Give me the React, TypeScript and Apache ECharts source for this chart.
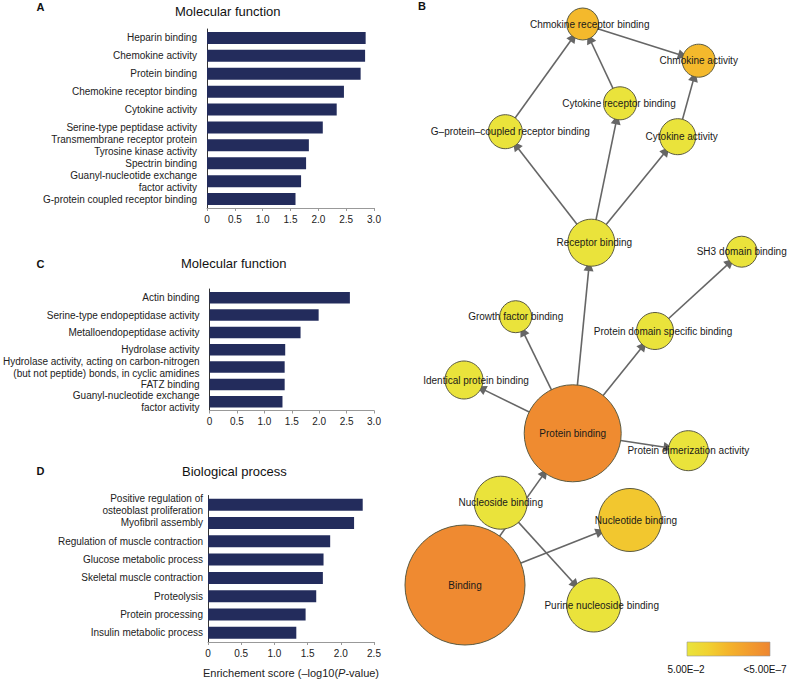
import React, { useEffect, useRef } from 'react';
import * as echarts from 'echarts';

// ---------- Bar panel data ----------
const catsA = [
  'Heparin binding',
  'Chemokine activity',
  'Protein binding',
  'Chemokine receptor binding',
  'Cytokine activity',
  'Serine-type peptidase activity',
  'Transmembrane receptor protein\nTyrosine kinase activity',
  'Spectrin binding',
  'Guanyl-nucleotide exchange\nfactor activity',
  'G-protein coupled receptor binding',
];
const valsA = [2.85, 2.84, 2.76, 2.46, 2.33, 2.08, 1.83, 1.78, 1.69, 1.59];

const catsC = [
  'Actin binding',
  'Serine-type endopeptidase activity',
  'Metalloendopeptidase activity',
  'Hydrolase activity',
  'Hydrolase activity, acting on carbon-nitrogen\n(but not peptide) bonds, in cyclic amidines',
  'FATZ binding',
  'Guanyl-nucleotide exchange\nfactor activity',
];
const valsC = [2.56, 1.99, 1.66, 1.38, 1.37, 1.37, 1.33];

const catsD = [
  'Positive regulation of\nosteoblast proliferation',
  'Myofibril assembly',
  'Regulation of muscle contraction',
  'Glucose metabolic process',
  'Skeletal muscle contraction',
  'Proteolysis',
  'Protein processing',
  'Insulin metabolic process',
];
const valsD = [2.33, 2.2, 1.84, 1.74, 1.73, 1.63, 1.47, 1.33];

const ticksABC = [0, 0.5, 1.0, 1.5, 2.0, 2.5, 3.0];
const ticksD = [0, 0.5, 1.0, 1.5, 2.0, 2.5];

// ---------- Network data ----------
const nodeNames = [
  'Chmokine receptor binding',
  'Chmokine activity',
  'Cytokine receptor binding',
  'G–protein–coupled receptor binding',
  'Cytokine activity',
  'Receptor binding',
  'SH3 domain binding',
  'Growth factor binding',
  'Protein domain specific binding',
  'Identical protein binding',
  'Protein binding',
  'Protein dimerization activity',
  'Nucleoside binding',
  'Nucleotide binding',
  'Binding',
  'Purine nucleoside binding',
];
// -log10(P) of each GO term (colour)
const nodeScore = [3.6, 3.6, 1.4, 1.4, 1.4, 1.4, 1.4, 1.4, 1.4, 1.4, 6.0, 1.4, 1.4, 3.0, 6.1, 1.4];
// node layout (graph drawing coordinates) and node diameters
const nodeX = [582.7, 698.7, 620, 505.3, 677.7, 591.3, 741.7, 515.7, 655, 464, 572.7, 688.3, 500.7, 630, 465, 593.7];
const nodeY = [24, 60.7, 103.3, 131.7, 136.7, 242.7, 251.7, 316.7, 331, 380, 433.3, 450.7, 502.7, 520, 585, 605];
const nodeSize = [32, 33, 33, 34, 36, 47, 31, 32, 37, 38, 97, 40, 53, 63, 120, 54];
const edges: [string, string][] = [
  ['G–protein–coupled receptor binding', 'Chmokine receptor binding'],
  ['Cytokine receptor binding', 'Chmokine receptor binding'],
  ['Chmokine receptor binding', 'Chmokine activity'],
  ['Cytokine activity', 'Chmokine activity'],
  ['Receptor binding', 'G–protein–coupled receptor binding'],
  ['Receptor binding', 'Cytokine receptor binding'],
  ['Receptor binding', 'Cytokine activity'],
  ['Protein binding', 'Receptor binding'],
  ['Protein binding', 'Growth factor binding'],
  ['Protein binding', 'Identical protein binding'],
  ['Protein binding', 'Protein domain specific binding'],
  ['Protein domain specific binding', 'SH3 domain binding'],
  ['Protein binding', 'Protein dimerization activity'],
  ['Binding', 'Protein binding'],
  ['Binding', 'Nucleotide binding'],
  ['Nucleoside binding', 'Purine nucleoside binding'],
];
const scoreMin = 1.3; // 5.00E-2
const scoreMax = 6.3; // 5.00E-7
const scaleLabels = ['5.00E–2', '<5.00E–7'];

const FONT = '"Liberation Sans", Arial, Helvetica, sans-serif';
const NAVY = '#232c5c';
const GRAD = ['#e9e43c', '#f1d231', '#f4b42b', '#f29c2e', '#ee8631'];
const labelShift = [7, 0, -1, 5, 4, 3, 0, 0, 8, 12, 0, 0, 0, 6, 0, 8];

function barPanel(gi: number, cats: string[], vals: number[], max: number, margin: number, barW: number) {
  const x = {
    gridIndex: gi,
    type: 'value',
    min: 0,
    max,
    interval: 0.5,
    splitLine: { show: false },
    axisLine: { show: true, lineStyle: { color: '#999', width: 1 } },
    axisTick: { show: true, length: 3, lineStyle: { color: '#999' } },
    axisLabel: {
      fontSize: 10,
      color: '#222',
      fontFamily: FONT,
      margin: 6,
      formatter: (v: number) => (v === 0 ? '0' : v.toFixed(1)),
    },
  };
  const y = {
    gridIndex: gi,
    type: 'category',
    data: cats,
    inverse: true,
    axisLine: { show: true, lineStyle: { color: '#333', width: 1 } },
    axisTick: { show: false },
    axisLabel: { interval: 0, hideOverlap: false, fontSize: 10, color: '#222', fontFamily: FONT, margin, lineHeight: 12 },
  };
  const s = {
    type: 'bar',
    xAxisIndex: gi,
    yAxisIndex: gi,
    data: vals,
    barWidth: barW,
    itemStyle: { color: NAVY },
    silent: true,
  };
  return { x, y, s };
}

export default function App() {
  const ref = useRef<HTMLDivElement>(null);
  useEffect(() => {
    if (!ref.current) return;
    const chart = echarts.init(ref.current, undefined, { renderer: 'svg' });
    const pA = barPanel(0, catsA, valsA, ticksABC[ticksABC.length - 1], 10, 12);
    const pC = barPanel(1, catsC, valsC, ticksABC[ticksABC.length - 1], 10, 11.5);
    const pD = barPanel(2, catsD, valsD, ticksD[ticksD.length - 1], 5, 12);
    (pD.x as any).name = '{a|Enrichement score (–log10(}{b|P}{a|-value)}';
    (pD.x as any).nameLocation = 'middle';
    (pD.x as any).nameGap = 25;
    (pD.x as any).nameTextStyle = {
      rich: {
        a: { fontSize: 11, color: '#222', fontFamily: FONT },
        b: { fontSize: 11, color: '#222', fontFamily: FONT, fontStyle: 'italic' },
      },
    };

    const colorFor = (sc: number) => {
      const t = Math.max(0, Math.min(1, (sc - scoreMin) / (scoreMax - scoreMin)));
      return echarts.color.lerp(t, GRAD) as string;
    };

    const graphData = nodeNames.map((n, i) => ({
      name: n,
      value: [nodeX[i], nodeY[i]],
      symbolSize: nodeSize[i],
      itemStyle: { color: colorFor(nodeScore[i]) },
      label: { offset: [labelShift[i], 0] },
    }));

    const gradient = new echarts.graphic.LinearGradient(0, 0, 1, 0, GRAD.map((c, i) => ({ offset: i / (GRAD.length - 1), color: c })));

    const txt = (text: string, x: number, y: number, size: number, bold = false, align = 'left') => ({
      type: 'text',
      x,
      y,
      silent: true,
      style: {
        text,
        fontSize: size,
        fontFamily: FONT,
        fontWeight: bold ? 'bold' : 'normal',
        fill: '#111',
        align,
        verticalAlign: 'middle',
      },
    });

    const option: any = {
      animation: false,
      backgroundColor: '#fff',
      grid: [
        { left: 207, top: 29, width: 167, height: 179 },
        { left: 206, top: 289, width: 168, height: 121.5 },
        { left: 208, top: 495.5, width: 166, height: 146.5 },
        { left: 0, top: 0, right: 0, bottom: 0 },
      ],
      xAxis: [
        pA.x,
        pC.x,
        pD.x,
        { gridIndex: 3, type: 'value', min: 0, max: 789, show: false },
      ],
      yAxis: [
        pA.y,
        pC.y,
        pD.y,
        { gridIndex: 3, type: 'value', min: 0, max: 679, inverse: true, show: false },
      ],
      series: [
        pA.s,
        pC.s,
        pD.s,
        {
          type: 'graph',
          coordinateSystem: 'cartesian2d',
          xAxisIndex: 3,
          yAxisIndex: 3,
          silent: true,
          data: graphData,
          links: edges.map(([s, t]) => ({ source: s, target: t })),
          edgeSymbol: ['none', 'triangle'],
          edgeSymbolSize: [0, 10],
          lineStyle: { color: '#666', width: 1.6, opacity: 1, curveness: 0 },
          itemStyle: { borderColor: '#5b5a40', borderWidth: 1 },
          label: { show: true, position: 'inside', fontSize: 10, color: '#1a1a1a', fontFamily: FONT },
          emphasis: { disabled: true },
        },
      ],
      graphic: [
        txt('A', 40.5, 6.5, 11, true, 'center'),
        txt('Molecular function', 175, 11, 13),
        txt('B', 422, 6, 11, true, 'center'),
        txt('C', 40.5, 263.5, 11, true, 'center'),
        txt('Molecular function', 181, 263, 13),
        txt('D', 40.5, 470.5, 11, true, 'center'),
        txt('Biological process', 182, 471, 13),
        {
          type: 'rect',
          silent: true,
          shape: { x: 687, y: 642, width: 83, height: 14 },
          style: { fill: gradient, stroke: '#999', lineWidth: 0.6 },
        },
        txt(scaleLabels[0], 686, 669, 10, false, 'center'),
        txt(scaleLabels[1], 765, 669, 10, false, 'center'),
      ],
    };
    chart.setOption(option);
    return () => chart.dispose();
  }, []);
  return <div ref={ref} style={{ position: 'fixed', left: 0, top: 0, width: 789, height: 679 }} />;
}
